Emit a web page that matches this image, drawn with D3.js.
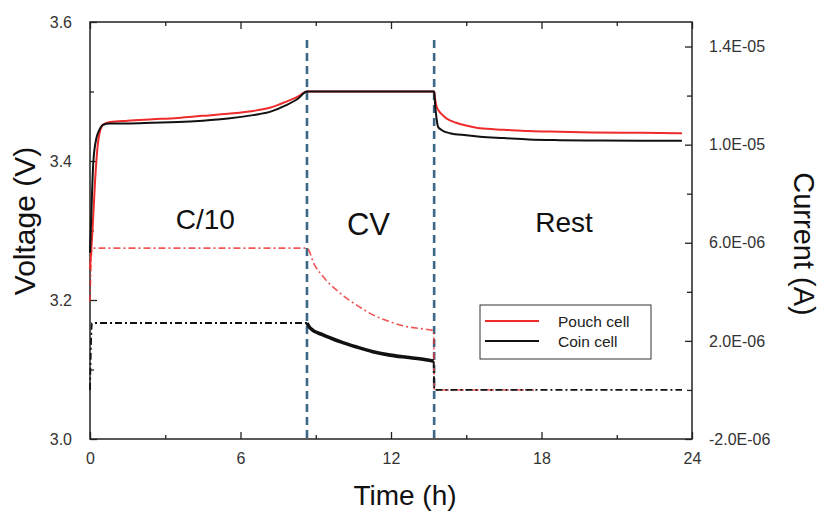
<!doctype html>
<html lang="en">
<head>
  <meta charset="utf-8">
  <title>Voltage / current profile</title>
  <script src="https://cdn.jsdelivr.net/npm/d3@7"></script>
  <style>
    body { margin: 0; background: #fff; }
    svg text { font-family: "Liberation Sans", Arial, sans-serif; }
    .tick text { fill: #333; font-size: 16px; }
    .axis path { display: none; }
    .axis line { stroke: #222; stroke-width: 1.3; }
  </style>
</head>
<body>
<div id="chart"></div>
<script>
  // tick values
  var timeTicks = [0, 6, 12, 18, 24];
  var timeMinor = [3, 9, 15, 21];
  var voltTicks = [3.0, 3.2, 3.4, 3.6];
  var voltMinor = [3.1, 3.3, 3.5];
  var currTicks = [-2e-6, 2e-6, 6e-6, 1e-5, 1.4e-5];
  var currMinor = [0, 4e-6, 8e-6, 1.2e-5];

  // step boundaries (h) and step names
  var stepTimes = [8.65, 13.72];
  var stepLabels = ["C/10", "CV", "Rest"];
  var stepLabelTimes = [4.6, 11.1, 18.9];

  // voltage, pouch cell
  var pouchVt = [0, 0.1, 0.2, 0.3, 0.4, 0.55, 0.8, 1.5, 2.5, 3.5, 4.5, 5.5, 6.5, 7.2, 7.8, 8.3, 8.65, 10, 12, 13.72, 13.76, 13.82, 14.0, 14.22, 14.6, 15.0, 15.55, 16.5, 17.5, 18.74, 20, 22, 23.6];
  var pouchV = [3.245, 3.30, 3.37, 3.42, 3.443, 3.453, 3.456, 3.458, 3.460, 3.462, 3.465, 3.468, 3.472, 3.477, 3.485, 3.493, 3.5, 3.5, 3.5, 3.5, 3.489, 3.478, 3.468, 3.461, 3.455, 3.451, 3.447, 3.445, 3.443, 3.442, 3.441, 3.4405, 3.440];

  // voltage, coin cell
  var coinVt = [0, 0.05, 0.13, 0.25, 0.35, 0.52, 0.8, 1.5, 2.5, 3.5, 4.5, 5.5, 6.5, 7.2, 7.8, 8.3, 8.65, 10, 12, 13.72, 13.76, 13.82, 13.88, 14.0, 14.35, 15.0, 15.55, 16.5, 17.5, 18.74, 20, 22, 23.6];
  var coinV = [3.268, 3.32, 3.397, 3.432, 3.443, 3.452, 3.454, 3.454, 3.455, 3.456, 3.458, 3.461, 3.466, 3.471, 3.480, 3.490, 3.5, 3.5, 3.5, 3.5, 3.48, 3.46, 3.449, 3.445, 3.440, 3.437, 3.435, 3.433, 3.431, 3.430, 3.4295, 3.429, 3.429];

  // current, pouch cell (uA)
  var pouchIt = [0, 0.08, 2, 4, 6, 8.65, 8.95, 9.29, 9.97, 10.63, 11.28, 11.96, 12.63, 13.2, 13.62, 13.70, 13.73, 15, 17.7];
  var pouchI = [3.6, 5.78, 5.78, 5.78, 5.78, 5.78, 5.1, 4.62, 3.95, 3.46, 3.06, 2.78, 2.58, 2.5, 2.44, 2.43, 0, 0, 0];

  // current, coin cell (uA) : charge / CV / rest
  var coinChargeIt = [0, 0.08, 2, 4, 6, 8.65];
  var coinChargeI = [0, 2.73, 2.73, 2.73, 2.73, 2.73];
  var coinCvIt = [8.65, 8.77, 9.29, 9.97, 10.63, 11.28, 11.96, 12.63, 13.2, 13.62, 13.70];
  var coinCvI = [2.73, 2.53, 2.24, 1.97, 1.75, 1.56, 1.42, 1.33, 1.26, 1.19, 1.18];
  var coinRestIt = [13.70, 13.73, 16, 20, 23.6];
  var coinRestI = [1.18, 0, 0, 0, 0];

  var legendNames = ["Pouch cell", "Coin cell"];
  var colors = { pouch: "#ee2c2c", coin: "#111111" };

  var W = 823, H = 514;
  var plot = { left: 90, right: 692, top: 22, bottom: 439 };

  var svg = d3.select("#chart").append("svg")
    .attr("width", W)
    .attr("height", H);

  var x = d3.scaleLinear().domain([0, 24]).range([plot.left, plot.right]);
  var yV = d3.scaleLinear().domain([3.0, 3.6]).range([plot.bottom, plot.top]);
  var yI = d3.scaleLinear().domain([-2e-6, 1.5e-5]).range([plot.bottom, plot.top]);

  function zip(a, b) { return a.map(function (d, i) { return [d, b[i]]; }); }

  // sci format like 1.4E-05
  function sci(v) {
    var s = v.toExponential(1).toUpperCase();
    return s.replace(/E([+-])(\d)$/, "E$10$2");
  }

  // axes, ticks pointing inward
  svg.append("g").attr("class", "axis")
    .attr("transform", "translate(0," + plot.bottom + ")")
    .call(d3.axisBottom(x).tickValues(timeTicks).tickSize(-7).tickPadding(14).tickFormat(d3.format("d")));
  svg.append("g").attr("class", "axis")
    .attr("transform", "translate(0," + plot.bottom + ")")
    .call(d3.axisBottom(x).tickValues(timeMinor).tickSize(-4).tickFormat(""));
  svg.append("g").attr("class", "axis")
    .attr("transform", "translate(0," + plot.top + ")")
    .call(d3.axisTop(x).tickValues(timeTicks).tickSize(-7).tickFormat(""));
  svg.append("g").attr("class", "axis")
    .attr("transform", "translate(0," + plot.top + ")")
    .call(d3.axisTop(x).tickValues(timeMinor).tickSize(-4).tickFormat(""));

  svg.append("g").attr("class", "axis")
    .attr("transform", "translate(" + plot.left + ",0)")
    .call(d3.axisLeft(yV).tickValues(voltTicks).tickSize(-7).tickPadding(18).tickFormat(d3.format(".1f")));
  svg.append("g").attr("class", "axis")
    .attr("transform", "translate(" + plot.left + ",0)")
    .call(d3.axisLeft(yV).tickValues(voltMinor).tickSize(-4).tickFormat(""));

  svg.append("g").attr("class", "axis")
    .attr("transform", "translate(" + plot.right + ",0)")
    .call(d3.axisRight(yI).tickValues(currTicks).tickSize(-7).tickPadding(17).tickFormat(sci));
  svg.append("g").attr("class", "axis")
    .attr("transform", "translate(" + plot.right + ",0)")
    .call(d3.axisRight(yI).tickValues(currMinor).tickSize(-5).tickFormat(""));

  // frame
  svg.append("rect")
    .attr("x", plot.left).attr("y", plot.top)
    .attr("width", plot.right - plot.left)
    .attr("height", plot.bottom - plot.top)
    .attr("fill", "none")
    .attr("stroke", "#222")
    .attr("stroke-width", 1.5);

  // step boundaries
  svg.selectAll(".step")
    .data(stepTimes)
    .enter().append("line")
    .attr("x1", function (d) { return x(d); })
    .attr("x2", function (d) { return x(d); })
    .attr("y1", 40)
    .attr("y2", plot.bottom)
    .attr("stroke", "#3d6787")
    .attr("stroke-width", 2.6)
    .attr("stroke-dasharray", "8,5");

  var lineV = d3.line()
    .x(function (d) { return x(d[0]); })
    .y(function (d) { return yV(d[1]); })
    .curve(d3.curveMonotoneX);
  var lineI = d3.line()
    .x(function (d) { return x(d[0]); })
    .y(function (d) { return yI(d[1] * 1e-6); })
    .curve(d3.curveMonotoneX);

  // current curves (dash-dot)
  svg.append("path")
    .attr("d", lineI(zip(pouchIt, pouchI)))
    .attr("fill", "none")
    .attr("stroke", colors.pouch)
    .attr("stroke-opacity", 0.8)
    .attr("stroke-width", 1.6)
    .attr("stroke-dasharray", "7,3,2,3");
  svg.append("path")
    .attr("d", lineI(zip(coinChargeIt, coinChargeI)))
    .attr("fill", "none")
    .attr("stroke", colors.coin)
    .attr("stroke-width", 1.8)
    .attr("stroke-dasharray", "7,3,2,3");
  svg.append("path")
    .attr("d", lineI(zip(coinCvIt, coinCvI)))
    .attr("fill", "none")
    .attr("stroke", colors.coin)
    .attr("stroke-width", 3.6);
  svg.append("path")
    .attr("d", lineI(zip(coinRestIt, coinRestI)))
    .attr("fill", "none")
    .attr("stroke", colors.coin)
    .attr("stroke-width", 1.8)
    .attr("stroke-dasharray", "7,3,2,3");

  // voltage curves
  svg.append("path")
    .attr("d", lineV(zip(pouchVt, pouchV)))
    .attr("fill", "none")
    .attr("stroke", colors.pouch)
    .attr("stroke-width", 2);
  svg.append("path")
    .attr("d", lineV(zip(coinVt, coinV)))
    .attr("fill", "none")
    .attr("stroke", colors.coin)
    .attr("stroke-width", 2);

  // step names
  svg.selectAll(".stepLabel")
    .data(stepLabels)
    .enter().append("text")
    .attr("x", function (d, i) { return x(stepLabelTimes[i]); })
    .attr("y", function (d, i) { return [229, 235, 232][i]; })
    .attr("text-anchor", "middle")
    .attr("font-size", function (d, i) { return i == 1 ? 31 : 28; })
    .attr("fill", "#111")
    .text(function (d) { return d; });

  // axis titles
  svg.append("text")
    .attr("transform", "translate(35,221) rotate(-90)")
    .attr("text-anchor", "middle")
    .attr("font-size", 30)
    .attr("fill", "#111")
    .text("Voltage (V)");
  svg.append("text")
    .attr("transform", "translate(794,244) rotate(90)")
    .attr("text-anchor", "middle")
    .attr("font-size", 29)
    .attr("fill", "#111")
    .text("Current (A)");
  svg.append("text")
    .attr("x", 405)
    .attr("y", 505)
    .attr("text-anchor", "middle")
    .attr("font-size", 28)
    .attr("fill", "#111")
    .text("Time (h)");

  // legend
  var legend = svg.append("g").attr("transform", "translate(480,305)");
  legend.append("rect")
    .attr("width", 171).attr("height", 54)
    .attr("fill", "#fff")
    .attr("stroke", "#333")
    .attr("stroke-width", 1);
  legend.selectAll(".lg")
    .data(legendNames)
    .enter().append("g")
    .each(function (d, i) {
      var g = d3.select(this);
      g.append("line")
        .attr("x1", 5).attr("x2", 59)
        .attr("y1", 16 + i * 20).attr("y2", 16 + i * 20)
        .attr("stroke", i == 0 ? colors.pouch : colors.coin)
        .attr("stroke-width", 2);
      g.append("text")
        .attr("x", 78)
        .attr("y", 22 + i * 20)
        .attr("font-family", "'Open Sans', 'Noto Sans', sans-serif")
        .attr("font-size", 15.5)
        .attr("fill", "#222")
        .text(d);
    });
</script>
</body>
</html>
